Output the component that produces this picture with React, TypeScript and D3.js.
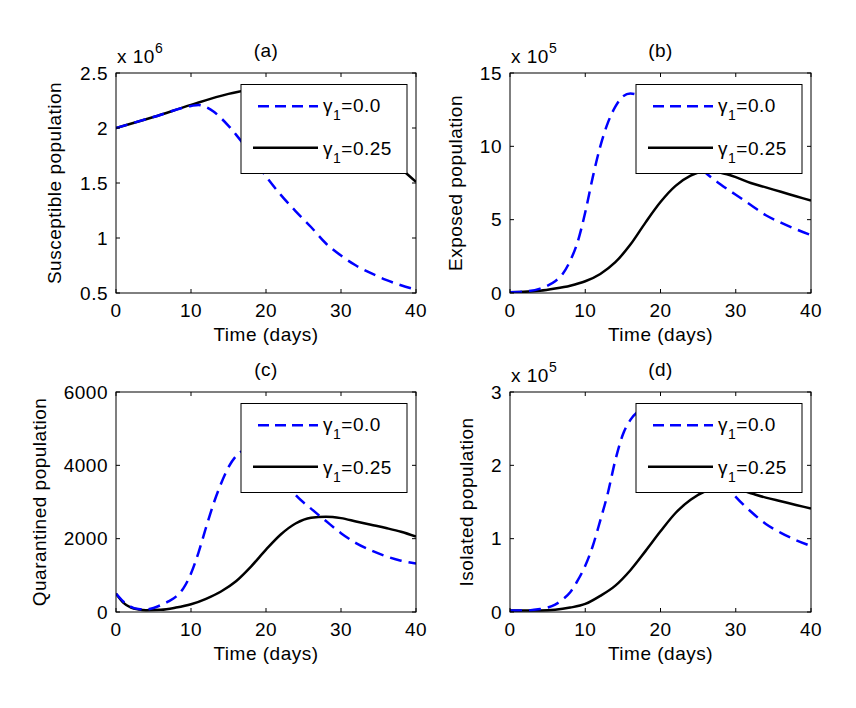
import * as d3 from "d3"

const FONT = "'Liberation Sans', Arial, Helvetica, sans-serif"

const xTicks = [0, 10, 20, 30, 40]
const legendLabels = ["0.0", "0.25"]

// (a) susceptible, x 10^6
const daysA0 = [0, 5, 10, 11, 12, 13, 14, 15, 16, 18, 20, 22, 24, 26, 28, 30, 32, 34, 36, 38, 40]
const susA0 = [2.0, 2.1, 2.2, 2.21, 2.19, 2.15, 2.09, 2.02, 1.94, 1.76, 1.56, 1.39, 1.24, 1.1, 0.95, 0.84, 0.75, 0.68, 0.62, 0.57, 0.53]
const daysA25 = [0, 5, 10, 15, 17, 19, 21, 24, 27, 30, 33, 36, 38, 40]
const susA25 = [2.0, 2.1, 2.21, 2.31, 2.34, 2.37, 2.38, 2.34, 2.22, 2.06, 1.9, 1.74, 1.63, 1.51]

// (b) exposed, x 10^5
const daysB0 = [0, 2, 4, 5, 6, 7, 8, 9, 10, 11, 12, 13, 14, 15, 16, 17, 18, 20, 22, 24, 26, 28, 30, 32, 34, 36, 38, 40]
const expB0 = [0.05, 0.1, 0.3, 0.5, 0.8, 1.3, 2.2, 3.5, 5.5, 7.9, 10.0, 11.6, 12.7, 13.4, 13.6, 13.5, 13.1, 11.9, 10.6, 9.3, 8.2, 7.4, 6.7, 6.0, 5.3, 4.8, 4.35, 3.95]
const daysB25 = [0, 4, 6, 8, 10, 12, 14, 16, 18, 20, 22, 24, 26, 28, 30, 32, 34, 36, 38, 40]
const expB25 = [0.05, 0.15, 0.3, 0.5, 0.8, 1.3, 2.1, 3.3, 4.8, 6.2, 7.3, 8.0, 8.3, 8.2, 7.9, 7.5, 7.2, 6.9, 6.6, 6.3]

// (c) quarantined
const daysC0 = [0, 1, 2, 3, 4, 5, 6, 7, 8, 9, 10, 11, 12, 13, 14, 15, 16, 17, 18, 19, 20, 22, 24, 26, 28, 30, 32, 34, 36, 38, 40]
const quaC0 = [500, 280, 140, 80, 70, 110, 190, 290, 420, 650, 1050, 1620, 2300, 2950, 3500, 3950, 4250, 4400, 4420, 4330, 4150, 3700, 3180, 2820, 2480, 2150, 1880, 1680, 1520, 1400, 1320]
const daysC25 = [0, 1, 2, 3, 4, 6, 8, 10, 12, 14, 16, 18, 20, 22, 24, 26, 28, 30, 32, 34, 36, 38, 40]
const quaC25 = [500, 250, 120, 70, 50, 60, 120, 210, 360, 560, 840, 1240, 1700, 2120, 2420, 2570, 2600, 2560, 2470, 2380, 2290, 2190, 2060]

// (d) isolated, x 10^5
const daysD0 = [0, 2, 4, 5, 6, 7, 8, 9, 10, 11, 12, 13, 14, 15, 16, 17, 18, 19, 20, 22, 24, 26, 28, 30, 32, 34, 36, 38, 40]
const isoD0 = [0.02, 0.02, 0.04, 0.06, 0.1, 0.17, 0.27, 0.43, 0.63, 0.9, 1.25, 1.62, 2.07, 2.42, 2.62, 2.73, 2.78, 2.79, 2.76, 2.58, 2.34, 2.09, 1.82, 1.57, 1.37, 1.2, 1.08, 0.98, 0.9]
const daysD25 = [0, 4, 6, 8, 10, 12, 14, 16, 18, 20, 22, 24, 26, 28, 30, 32, 34, 36, 38, 40]
const isoD25 = [0.02, 0.02, 0.03, 0.06, 0.11, 0.22, 0.36, 0.57, 0.83, 1.1, 1.35, 1.53, 1.65, 1.7, 1.68, 1.62, 1.56, 1.51, 1.46, 1.41]

const panels = [
  {
    id: "a", title: "(a)", ylabel: "Susceptible population", exp: "6",
    left: 116, top: 73, right: 416, bottom: 293, ylabelDx: -55,
    yDomain: [0.5, 2.5], yTicks: [0.5, 1, 1.5, 2, 2.5],
    blue: d3.zip(daysA0, susA0), black: d3.zip(daysA25, susA25),
  },
  {
    id: "b", title: "(b)", ylabel: "Exposed population", exp: "5",
    left: 510, top: 73, right: 811, bottom: 293, ylabelDx: -48,
    yDomain: [0, 15], yTicks: [0, 5, 10, 15],
    blue: d3.zip(daysB0, expB0), black: d3.zip(daysB25, expB25),
  },
  {
    id: "c", title: "(c)", ylabel: "Quarantined population", exp: null,
    left: 116, top: 392, right: 416, bottom: 612, ylabelDx: -70,
    yDomain: [0, 6000], yTicks: [0, 2000, 4000, 6000],
    blue: d3.zip(daysC0, quaC0), black: d3.zip(daysC25, quaC25),
  },
  {
    id: "d", title: "(d)", ylabel: "Isolated population", exp: "5",
    left: 510, top: 392, right: 811, bottom: 612, ylabelDx: -37.5,
    yDomain: [0, 3], yTicks: [0, 1, 2, 3],
    blue: d3.zip(daysD0, isoD0), black: d3.zip(daysD25, isoD25),
  },
]

const textStyle = { fontFamily: FONT, fontSize: 19, letterSpacing: 0.5, fill: "#000" }

function Panel({ p }: { p: any }) {
  const x = d3.scaleLinear().domain([0, 40]).range([p.left, p.right])
  const y = d3.scaleLinear().domain(p.yDomain).range([p.bottom, p.top])
  const line = d3
    .line<[number, number]>()
    .x((d) => x(d[0]))
    .y((d) => y(d[1]))
    .curve(d3.curveMonotoneX)

  const w = p.right - p.left
  const h = p.bottom - p.top
  const lgW = 166
  const lgH = 89
  const lgX = p.right - 9 - lgW
  const lgY = p.top + 11.5
  const tick = 4

  return (
    <g>
      <defs>
        <clipPath id={`clip-${p.id}`}>
          <rect x={p.left} y={p.top} width={w} height={h} />
        </clipPath>
      </defs>
      <rect x={p.left} y={p.top} width={w} height={h} fill="#fff" />

      <g clipPath={`url(#clip-${p.id})`}>
        <path d={line(p.black) ?? ""} fill="none" stroke="#000" strokeWidth={2.5} />
        <path d={line(p.blue) ?? ""} fill="none" stroke="#0000ff" strokeWidth={2.5} strokeDasharray="12 7" />
      </g>

      {/* ticks on all four sides, pointing inward */}
      {xTicks.map((t) => (
        <g key={`xt${t}`} stroke="#000" strokeWidth={1}>
          <line x1={x(t)} x2={x(t)} y1={p.bottom} y2={p.bottom - tick} />
          <line x1={x(t)} x2={x(t)} y1={p.top} y2={p.top + tick} />
        </g>
      ))}
      {p.yTicks.map((t: number) => (
        <g key={`yt${t}`} stroke="#000" strokeWidth={1}>
          <line x1={p.left} x2={p.left + tick} y1={y(t)} y2={y(t)} />
          <line x1={p.right} x2={p.right - tick} y1={y(t)} y2={y(t)} />
        </g>
      ))}
      <rect x={p.left} y={p.top} width={w} height={h} fill="none" stroke="#000" strokeWidth={1} />

      {xTicks.map((t) => (
        <text key={`xl${t}`} x={x(t)} y={p.bottom + 24} textAnchor="middle" style={textStyle}>
          {t}
        </text>
      ))}
      {p.yTicks.map((t: number) => (
        <text key={`yl${t}`} x={p.left - 8} y={y(t) + 6.8} textAnchor="end" style={textStyle}>
          {t}
        </text>
      ))}

      <text x={(p.left + p.right) / 2} y={p.bottom + 47.5} textAnchor="middle" style={textStyle}>
        Time (days)
      </text>
      <text
        transform={`translate(${p.left + p.ylabelDx},${(p.top + p.bottom) / 2}) rotate(-90)`}
        textAnchor="middle"
        style={textStyle}
      >
        {p.ylabel}
      </text>
      <text x={(p.left + p.right) / 2} y={p.top - 16.5} textAnchor="middle" style={textStyle}>
        {p.title}
      </text>
      {p.exp && (
        <text x={p.left + 1} y={p.top - 10.5} style={textStyle}>
          x 10
          <tspan dy={-10} style={{ fontSize: 14 }}>{p.exp}</tspan>
        </text>
      )}

      {/* legend */}
      <rect x={lgX} y={lgY} width={lgW} height={lgH} fill="#fff" stroke="#000" strokeWidth={1} />
      {legendLabels.map((lab, i) => {
        const ly = lgY + (i === 0 ? 21.7 : 63.3)
        const ty = lgY + (i === 0 ? 27.7 : 70)
        return (
          <g key={lab}>
            <line
              x1={lgX + (i === 0 ? 17 : 12)}
              x2={lgX + 77}
              y1={ly}
              y2={ly}
              stroke={i === 0 ? "#0000ff" : "#000"}
              strokeWidth={2.5}
              strokeDasharray={i === 0 ? "11 6" : undefined}
            />
            <text x={lgX + 82} y={ty} style={textStyle}>
              γ<tspan dy={8} style={{ fontSize: 14 }}>1</tspan>
              <tspan dy={-8}>={lab}</tspan>
            </text>
          </g>
        )
      })}
    </g>
  )
}

export default function App() {
  return (
    <svg
      width={856}
      height={708}
      style={{ position: "absolute", left: 0, top: 0, background: "#fff" }}
    >
      <rect width={856} height={708} fill="#fff" />
      {panels.map((p) => (
        <Panel key={p.id} p={p} />
      ))}
    </svg>
  )
}
